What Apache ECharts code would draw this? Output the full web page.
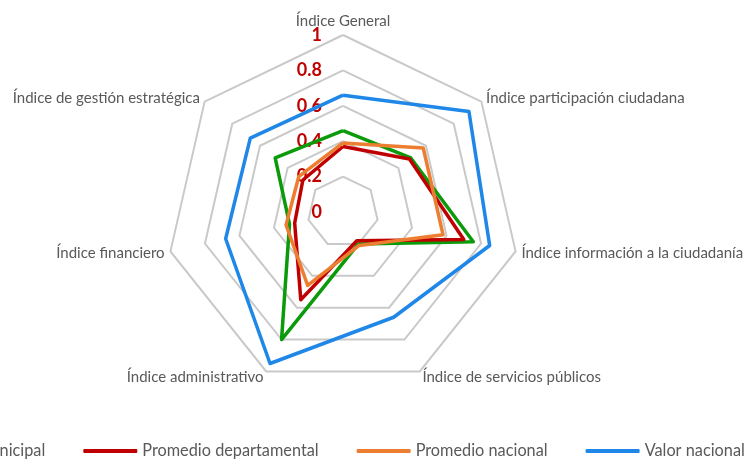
<!DOCTYPE html>
<html>
<head>
<meta charset="utf-8">
<script src="https://cdn.jsdelivr.net/npm/echarts@6/dist/echarts.min.js"></script>
<style>
  html, body { margin: 0; padding: 0; background: #fff; }
  #chart { width: 747px; height: 462px; }
</style>
</head>
<body>
<div id="chart"></div>
<script>
// indicadores en el orden de Excel (sentido horario desde arriba)
var categories = [
  'Índice General',
  'Índice participación ciudadana',
  'Índice información a la ciudadanía',
  'Índice de servicios públicos',
  'Índice administrativo',
  'Índice financiero',
  'Índice de gestión estratégica'
]
var seriesNames = ['Valor municipal', 'Promedio departamental', 'Promedio nacional', 'Valor nacional']
var valorMunicipal = [0.46, 0.49, 0.755, 0.2, 0.8, 0.31, 0.49]
var promedioDepartamental = [0.37, 0.48, 0.70, 0.18, 0.55, 0.28, 0.29]
var promedioNacional = [0.39, 0.58, 0.58, 0.21, 0.46, 0.33, 0.32]
var valorNacional = [0.66, 0.91, 0.85, 0.66, 0.95, 0.68, 0.67]
var tickLabels = ['0', '0.2', '0.4', '0.6', '0.8', '1']

var colors = ['#0a9a0a', '#c00000', '#ed7d31', '#1f87e8']

// echarts dibuja en sentido antihorario: se invierte el orden manteniendo el primero arriba
function cw(arr) {
  return [arr[0]].concat(arr.slice(1).reverse())
}

var myChart = echarts.init(document.getElementById('chart'))
var allData = [valorMunicipal, promedioDepartamental, promedioNacional, valorNacional]

var option = {
  animation: false,
  color: colors,
  legend: {
    data: seriesNames,
    left: -128,
    top: 438,
    width: 1200,
    itemWidth: 54,
    itemHeight: 4,
    itemGap: 38,
    icon: 'roundRect',
    textStyle: { color: '#595959', fontSize: 16.3, fontFamily: 'Lato' }
  },
  radar: [
    {
      center: [343, 212],
      radius: 177,
      startAngle: 90,
      splitNumber: 5,
      shape: 'polygon',
      indicator: cw(categories).map(function(n) { return { name: n, min: 0, max: 1 } }),
      axisName: { color: '#595959', fontSize: 15, fontFamily: 'Lato' },
      nameGap: 6,
      axisLine: { show: false },
      axisTick: { show: false },
      axisLabel: { show: false },
      splitArea: { show: false },
      splitLine: { lineStyle: { color: '#c9c9c9', width: 2 } }
    },
    {
      // solo para las etiquetas del eje vertical
      center: [343, 212],
      radius: 177,
      startAngle: 90,
      splitNumber: 5,
      indicator: [{ name: '', min: 0, max: 1 }],
      axisName: { show: false },
      axisLine: { show: false },
      axisTick: { show: false },
      splitLine: { show: false },
      splitArea: { show: false },
      axisLabel: {
        show: true,
        margin: 21,
        color: '#c00000',
        fontWeight: 'bold',
        fontSize: 18,
        fontFamily: 'Lato',
        formatter: function(v) {
          var i = Math.round(v * 5)
          return tickLabels[i]
        }
      }
    }
  ],
  series: [{
    type: 'radar',
    radarIndex: 0,
    symbol: 'none',
    data: allData.map(function(d, i) {
      return {
        name: seriesNames[i],
        value: cw(d),
        lineStyle: { width: 3.5, color: colors[i] },
        itemStyle: { color: colors[i] }
      }
    })
  }]
}
myChart.setOption(option)
</script>
</body>
</html>
